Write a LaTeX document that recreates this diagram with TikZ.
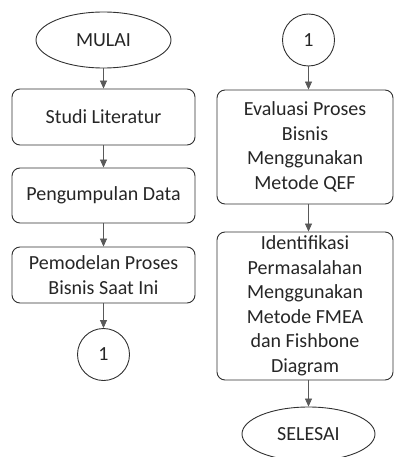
\documentclass[tikz,border=0pt]{standalone}
\usepackage{fontspec}
\setmainfont{Carlito}
\usetikzlibrary{arrows.meta,shapes.geometric}
\definecolor{txt}{HTML}{262626}
\definecolor{ln}{HTML}{303030}
\begin{document}
\begin{tikzpicture}[x=1pt,y=-1pt,
  base/.style={draw=ln,line width=0.9pt,text=txt,font=\fontsize{20}{24.5}\selectfont,inner sep=0pt,align=center},
  procbox/.style={base,rectangle,rounded corners=8pt},
  term/.style={base,ellipse},
  conn/.style={base,circle,minimum size=52pt},
  arr/.style={draw=ln!80,line width=0.7pt,-{Triangle[width=7pt,length=8pt]}}]
\useasboundingbox (0,0) rectangle (394,457);
\begin{scope}
\clip (0,0) rectangle (394,457);
% left column
\node[term,minimum width=135pt,minimum height=56pt] (mulai) at (103.5,40) {MULAI};
\node[procbox,minimum width=183pt,minimum height=56pt] (studi) at (103.5,117) {Studi Literatur};
\node[procbox,minimum width=183pt,minimum height=55pt] (kumpul) at (103.5,195.5) {Pengumpulan Data};
\node[procbox,minimum width=183pt,minimum height=56pt] (model) at (103.5,275) {Pemodelan Proses\\Bisnis Saat Ini};
\node[conn] (c1) at (103.5,354.5) {1};
% right column
\node[conn] (c2) at (308.5,40) {1};
\node[procbox,minimum width=176pt,minimum height=114pt] (eval) at (305,147) {Evaluasi Proses\\Bisnis\\Menggunakan\\Metode QEF};
\node[procbox,minimum width=176pt,minimum height=148pt] (ident) at (305,306) {Identifikasi\\Permasalahan\\Menggunakan\\Metode FMEA\\dan Fishbone\\Diagram};
\node[term,minimum width=133pt,minimum height=54pt] (selesai) at (308.5,434) {SELESAI};
% connectors
\draw[arr] (mulai) -- (studi);
\draw[arr] (studi) -- (kumpul);
\draw[arr] (kumpul) -- (model);
\draw[arr] (model) -- (c1);
\draw[arr] (c2.south) -- (c2.south |- eval.north);
\draw[arr] (selesai.north |- eval.south) -- (selesai.north |- ident.north);
\draw[arr] (selesai.north |- ident.south) -- (selesai.north);
\end{scope}
\end{tikzpicture}
\end{document}
